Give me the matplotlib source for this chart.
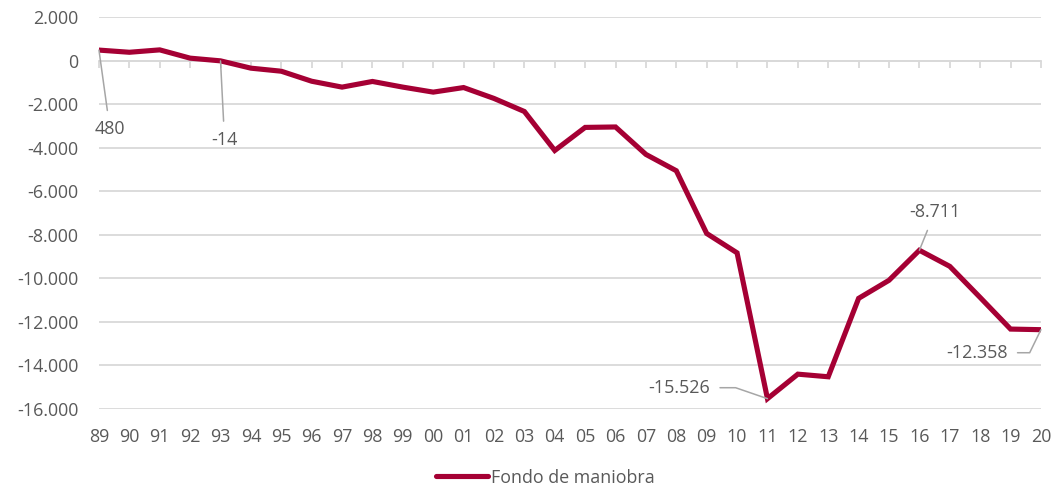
import matplotlib
matplotlib.use("Agg")
import matplotlib.pyplot as plt
from matplotlib.ticker import FuncFormatter

plt.rcParams['font.family'] = ['Open Sans', 'DejaVu Sans']
plt.rcParams['axes.unicode_minus'] = False

years = ['89', '90', '91', '92', '93', '94', '95', '96', '97', '98', '99',
         '00', '01', '02', '03', '04', '05', '06', '07', '08', '09', '10',
         '11', '12', '13', '14', '15', '16', '17', '18', '19', '20']
fondo = [480, 380, 490, 110, -14, -350, -490, -950, -1220, -960, -1220,
         -1450, -1240, -1740, -2340, -4130, -3070, -3050, -4310, -5060, -7940, -8830,
         -15526, -14400, -14520, -10920, -10090, -8711, -9450, -10880, -12330, -12358]
series_name = 'Fondo de maniobra'

# labelled points: index -> offset of label (points)
labelled = {0: (7.9, -56.9), 4: (2.9, -56.9), 22: (-63.4, 7.9),
            27: (11.1, 27.4), 31: (-46.0, -16.6)}
leader_style = {22: "angle,angleA=0,angleB=-19,rad=0",
                31: "angle,angleA=0,angleB=64,rad=0"}

line_color = '#A50034'
text_color = '#595959'
grid_color = '#D9D9D9'
fs = 12.9


def thousands(v, pos=None):
    s = f"{abs(int(round(v))):,}".replace(',', '.')
    return ('-' if v < 0 else '') + s


fig = plt.figure(figsize=(10.54, 4.91), dpi=100)
ax = fig.add_axes([0.0939, 0.167, 0.8937, 0.7984])

x = list(range(len(years)))
ax.plot(x, fondo, color=line_color, lw=3.7, solid_joinstyle='miter',
        solid_capstyle='round', label=series_name, zorder=3)

ax.set_xlim(0, len(years) - 1)
ax.set_ylim(-16000, 2000)
ax.set_yticks(range(-16000, 2001, 2000))
ax.yaxis.set_major_formatter(FuncFormatter(thousands))
ax.grid(axis='y', color=grid_color, lw=1.3)
ax.set_axisbelow(True)

for s in ['top', 'right', 'left']:
    ax.spines[s].set_visible(False)
ax.spines['bottom'].set_position(('data', 0))
ax.spines['bottom'].set_color(grid_color)
ax.spines['bottom'].set_linewidth(1.3)
ax.set_xticks(x)
ax.tick_params(axis='x', direction='out', length=5, width=1.3, color=grid_color,
               labelbottom=False)
ax.tick_params(axis='y', length=0, pad=15, labelsize=fs, labelcolor=text_color)

sec = ax.secondary_xaxis('bottom')
sec.set_xticks(x)
sec.set_xticklabels(years)
sec.spines['bottom'].set_visible(False)
sec.tick_params(length=0, pad=14, labelsize=fs, labelcolor=text_color)

for i, off in labelled.items():
    ax.annotate(thousands(fondo[i]), xy=(i, fondo[i]), xytext=off,
                textcoords='offset points', ha='center', va='center',
                fontsize=fs, color=text_color,
                arrowprops=dict(arrowstyle='-', color='#A6A6A6', lw=1.1,
                                shrinkA=5, shrinkB=0,
                                connectionstyle=leader_style.get(i, 'arc3')))

fig.legend(loc='center', bbox_to_anchor=(0.5176, 0.027), frameon=False,
           fontsize=fs, labelcolor=text_color, handlelength=2.9,
           handletextpad=0.2)

fig.savefig('out.png', dpi=100)
